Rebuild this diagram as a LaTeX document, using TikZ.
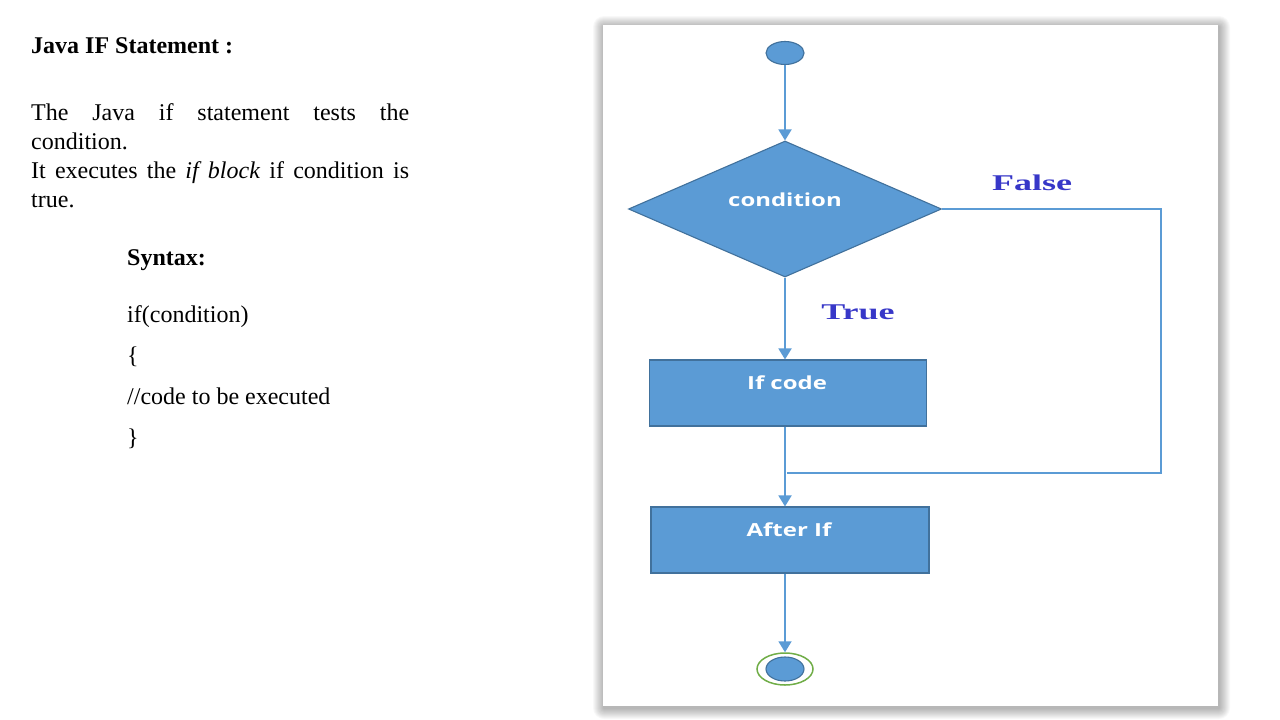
\documentclass[tikz,border=0pt]{standalone}
\usepackage{fontspec}
\setmainfont{Liberation Serif}
\newfontfamily\flowsans{Open Sans}
\usetikzlibrary{shapes.geometric,arrows.meta}
\definecolor{flowblue}{RGB}{91,155,213}
\definecolor{flowedge}{RGB}{65,113,156}
\definecolor{labelblue}{RGB}{55,55,200}
\definecolor{ringgreen}{RGB}{112,173,71}
\tikzset{
  body/.style={anchor=base west,inner sep=0pt,font=\fontsize{24}{29}\selectfont},
  flowshape/.style={fill=flowblue,draw=flowedge,line width=1.1,inner sep=0pt},
  boxtext/.style={inner sep=0pt,text=white,font=\flowsans\bfseries\fontsize{18}{20}\selectfont},
  branchlabel/.style={inner sep=0pt,text=labelblue,font=\fontsize{22.5}{24}\selectfont\bfseries},
  flow/.style={draw=flowblue,line width=1.8,-{Triangle[length=11pt,width=13pt]}},
  flowline/.style={draw=flowblue,line width=1.5},
}
\begin{document}
\begin{tikzpicture}[x=1pt,y=-1pt]
\useasboundingbox (0,0) rectangle (1280,720);
\fill[white] (0,0) rectangle (1280,720);
% left text
\node[body] (title) at (31,53) {\textbf{Java IF Statement :}};
\node[body] (l1) at (31,120) {\makebox[378pt][s]{The Java if statement tests the}};
\node[body] (l2) at (31,149) {condition.};
\node[body] (l3) at (31,178) {\makebox[378pt][s]{It executes the \textit{if block} if condition is}};
\node[body] (l4) at (31,207) {true.};
\node[body] (syn) at (127,265) {\textbf{Syntax:}};
\node[body] (s1) at (127,322) {if(condition)};
\node[body] (s2) at (127,363) {\{};
\node[body] (s3) at (127,404) {//code to be executed};
\node[body] (s4) at (127,445) {\}};
% panel shadow
\foreach \i in {1,...,11}
  \fill[black,fill opacity=0.028,rounded corners=\i pt] ({603-\i+1},{25-\i+2}) rectangle ({1218+\i+1},{706+\i+2});
\node[fill=white,inner sep=0pt,minimum width=615,minimum height=681,anchor=north west] (panel) at (603,25) {};
% flowchart
\node[ellipse,flowshape,minimum width=38,minimum height=23] (start) at (785,53) {};
\node[diamond,flowshape,minimum width=313,minimum height=136] (cond) at (785,209) {};
\node[boxtext] (condtxt) at (785,200) {\scalebox{1.33}[1]{condition}};
\node[rectangle,flowshape,minimum width=277,minimum height=66] (ifc) at (788,393) {};
\node[boxtext] (ifctxt) at (787,383) {\scalebox{1.33}[1]{If code}};
\node[rectangle,flowshape,minimum width=278,minimum height=66] (after) at (790,540) {};
\node[boxtext] (aftertxt) at (789,530) {\scalebox{1.33}[1]{After If}};
\node[ellipse,draw=ringgreen,line width=1.5,minimum width=56,minimum height=32,inner sep=0pt] (endring) at (785,669) {};
\node[ellipse,flowshape,minimum width=38,minimum height=24] (enddot) at (785,669) {};
\node[branchlabel] (falselbl) at (1032,183) {\scalebox{1.6}[1]{False}};
\node[branchlabel] (truelbl) at (858,312) {\scalebox{1.6}[1]{True}};
\coordinate (fc1) at (1161,209);
\coordinate (fc2) at (1161,473);
\coordinate (fjoin) at (787,473);
\draw[flow] (start) -- (cond.north);
\draw[flow] (cond.south) -- (cond.south |- ifc.north);
\draw[flow] (ifc.south -| cond.south) -- (cond.south |- after.north);
\draw[flow] (after.south -| enddot) -- (endring.north);
\draw[flowline] (cond.east) -- (fc1) -- (fc2) -- (fjoin);
\end{tikzpicture}
\end{document}
